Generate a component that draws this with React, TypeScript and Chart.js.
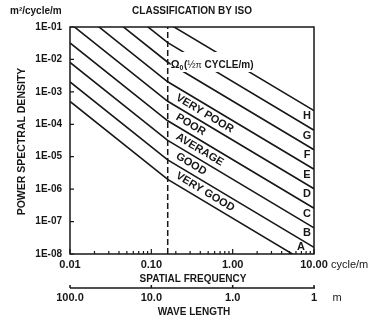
import React, { useEffect, useRef } from 'react';
import { Chart, registerables } from 'chart.js';

Chart.register(...registerables);

// spatial frequencies (cycle/m): left edge, Ω0 = 1/2π kink, right edge
const frequencies = [0.01, 0.159, 10];
const kinkFrequency = 0.159;

// ISO class boundary lines (A lower ... H upper), PSD in m²/cycle/m
const boundaryAtLeft = [5.06e-4, 2.02e-3, 8.1e-3, 3.24e-2, 0.129, 0.518, 2.07, 8.3, 33.1];
const boundaryAtKink = [2e-6, 8e-6, 3.2e-5, 1.28e-4, 5.12e-4, 2.048e-3, 8.192e-3, 3.277e-2, 0.1311];
const boundaryAtRight = [4.0e-9, 1.6e-8, 6.4e-8, 2.57e-7, 1.03e-6, 4.1e-6, 1.64e-5, 6.57e-5, 2.63e-4];

const classLetters = ['A', 'B', 'C', 'D', 'E', 'F', 'G', 'H'];
const qualityLabels = ['VERY GOOD', 'GOOD', 'AVERAGE', 'POOR', 'VERY POOR'];

const xTickValues = [0.01, 0.1, 1, 10];
const xTickLabels = ['0.01', '0.10', '1.00', '10.00'];
const yTickValues = [1e-8, 1e-7, 1e-6, 1e-5, 1e-4, 1e-3, 1e-2, 1e-1];
const yTickLabels = ['1E-08', '1E-07', '1E-06', '1E-05', '1E-04', '1E-03', '1E-02', '1E-01'];
const waveLengthLabels = ['100.0', '10.0', '1.0', '1'];

const FONT = "'Liberation Sans', Arial, Helvetica, sans-serif";
const INK = '#171717';

function logInterp(f: number, k: number): number {
  // log-space value of boundary k at frequency f (right of kink)
  const lf = Math.log10(f);
  const l0 = Math.log10(frequencies[1]);
  const l1 = Math.log10(frequencies[2]);
  const t = (lf - l0) / (l1 - l0);
  return Math.log10(boundaryAtKink[k]) + t * (Math.log10(boundaryAtRight[k]) - Math.log10(boundaryAtKink[k]));
}

const decor = {
  id: 'decor',
  afterDraw(chart: any) {
    const { ctx, chartArea: a, scales } = chart;
    const xs = scales.x;
    const ys = scales.y;
    ctx.save();
    ctx.strokeStyle = INK;
    ctx.fillStyle = INK;

    // frame
    ctx.lineWidth = 1.5;
    ctx.strokeRect(a.left, a.top, a.right - a.left, a.bottom - a.top);

    // y ticks (inside)
    ctx.lineWidth = 1.2;
    ctx.beginPath();
    yTickValues.forEach((v) => {
      const y = ys.getPixelForValue(v);
      ctx.moveTo(a.left, y);
      ctx.lineTo(a.left + 4, y);
    });
    // x ticks (inside, log minor)
    for (let d = 0; d < xTickValues.length; d++) {
      const base = xTickValues[d];
      const maxM = d === xTickValues.length - 1 ? 1 : 9;
      for (let m = 1; m <= maxM; m++) {
        const x = xs.getPixelForValue(base * m);
        const len = m === 1 ? 5 : 3;
        ctx.moveTo(x, a.bottom);
        ctx.lineTo(x, a.bottom - len);
      }
    }
    ctx.stroke();

    // Ω0 label with white backing (interrupts lines)
    const kx = xs.getPixelForValue(kinkFrequency);
    const lx = kx + 3;
    const ly = 68;
    ctx.fillStyle = '#ffffff';
    ctx.fillRect(lx, ly - 16, 88, 20);
    ctx.fillStyle = INK;
    ctx.textBaseline = 'alphabetic';
    ctx.textAlign = 'left';
    let cx = lx;
    ctx.font = `bold 11px ${FONT}`;
    ctx.fillText('Ω', cx, ly);
    cx += ctx.measureText('Ω').width;
    ctx.font = `bold 7px ${FONT}`;
    ctx.fillText('0', cx, ly + 2);
    cx += ctx.measureText('0').width + 0.5;
    ctx.font = `bold 10px ${FONT}`;
    ctx.fillText('(', cx, ly);
    cx += ctx.measureText('(').width;
    ctx.font = `10px ${FONT}`;
    ctx.fillText('½', cx, ly);
    cx += ctx.measureText('½').width;
    ctx.font = `9px ${FONT}`;
    ctx.fillText('π', cx, ly);
    cx += ctx.measureText('π').width;
    ctx.font = `bold 10px ${FONT}`;
    ctx.fillText(' CYCLE/m)', cx, ly);

    // rotated quality labels between boundaries (regions A..E)
    const startX = kx + 9;
    const fStart = xs.getValueForPixel(startX);
    ctx.font = `bold 11px ${FONT}`;
    ctx.textBaseline = 'middle';
    qualityLabels.forEach((label, k) => {
      const mid = (logInterp(fStart, k) + logInterp(fStart, k + 1)) / 2;
      const y = ys.getPixelForValue(Math.pow(10, mid));
      const xK = xs.getPixelForValue(frequencies[1]);
      const yK = ys.getPixelForValue(boundaryAtKink[k]);
      const xR = xs.getPixelForValue(frequencies[2]);
      const yR = ys.getPixelForValue(boundaryAtRight[k]);
      const ang = Math.atan2(yR - yK, xR - xK);
      ctx.save();
      ctx.translate(startX, y);
      ctx.rotate(ang);
      ctx.fillText(label, 0, 0);
      ctx.restore();
    });

    // class letters near right edge
    ctx.font = `bold 11px ${FONT}`;
    ctx.textAlign = 'center';
    classLetters.forEach((letter, k) => {
      let lxp = a.right - 7;
      const f = xs.getValueForPixel(lxp);
      const mid = (logInterp(f, k) + logInterp(f, k + 1)) / 2;
      let y = ys.getPixelForValue(Math.pow(10, mid));
      if (y > a.bottom - 7) {
        y = a.bottom - 7;
        lxp = a.right - 13;
      }
      ctx.fillText(letter, lxp, y);
    });

    // titles
    ctx.textBaseline = 'middle';
    ctx.font = `bold 10px ${FONT}`;
    ctx.textAlign = 'left';
    ctx.fillText('m²/cycle/m', 10, 11);
    ctx.textAlign = 'center';
    const cxp = (a.left + a.right) / 2;
    ctx.fillText('CLASSIFICATION BY ISO', cxp, 11);
    ctx.fillText('SPATIAL FREQUENCY', cxp + 1, 279);
    ctx.fillText('WAVE LENGTH', cxp + 2, 312);
    ctx.save();
    ctx.translate(22, (a.top + a.bottom) / 2 + 1);
    ctx.rotate(-Math.PI / 2);
    ctx.font = `bold 10.5px ${FONT}`;
    ctx.fillText('POWER SPECTRAL DENSITY', 0, 0);
    ctx.restore();

    // unit after last x label
    ctx.font = `11px ${FONT}`;
    ctx.textAlign = 'left';
    ctx.fillText('cycle/m', 331, 265);

    // wave length axis
    const wy = 288;
    ctx.lineWidth = 1.5;
    ctx.beginPath();
    ctx.moveTo(a.left, wy);
    ctx.lineTo(a.right + 1, wy);
    xTickValues.forEach((v) => {
      const x = xs.getPixelForValue(v);
      ctx.moveTo(x, wy);
      ctx.lineTo(x, wy - 3);
    });
    ctx.stroke();
    ctx.font = `bold 11px ${FONT}`;
    ctx.textAlign = 'center';
    xTickValues.forEach((v, i) => {
      ctx.fillText(waveLengthLabels[i], xs.getPixelForValue(v), 298);
    });
    ctx.font = `11px ${FONT}`;
    ctx.fillText('m', 337, 298);

    ctx.restore();
  },
};

export default function App() {
  const canvasRef = useRef<HTMLCanvasElement | null>(null);

  useEffect(() => {
    const canvas = canvasRef.current;
    if (!canvas) return;

    const boundaryDatasets = boundaryAtKink.map((_, k) => ({
      data: [
        { x: frequencies[0], y: boundaryAtLeft[k] },
        { x: frequencies[1], y: boundaryAtKink[k] },
        { x: frequencies[2], y: boundaryAtRight[k] },
      ],
      showLine: true,
      borderColor: INK,
      borderWidth: 1.6,
      pointRadius: 0,
      tension: 0,
    }));

    const dashedDataset = {
      data: [
        { x: kinkFrequency, y: yTickValues[0] },
        { x: kinkFrequency, y: yTickValues[yTickValues.length - 1] },
      ],
      showLine: true,
      borderColor: INK,
      borderWidth: 1.5,
      borderDash: [6, 3],
      pointRadius: 0,
    };

    const chart = new Chart(canvas, {
      type: 'scatter',
      data: { datasets: [...boundaryDatasets, dashedDataset] as any },
      options: {
        responsive: false,
        animation: false,
        devicePixelRatio: 1,
        layout: { padding: { top: 27, right: 54, left: 0, bottom: 0 } },
        plugins: { legend: { display: false }, tooltip: { enabled: false }, title: { display: false } },
        scales: {
          x: {
            type: 'logarithmic',
            min: xTickValues[0],
            max: xTickValues[xTickValues.length - 1],
            grid: { display: false, drawTicks: false },
            border: { display: false },
            afterBuildTicks: (scale: any) => {
              scale.ticks = xTickValues.map((v) => ({ value: v }));
            },
            afterFit: (scale: any) => {
              scale.height = 69;
            },
            ticks: {
              autoSkip: false,
              maxRotation: 0,
              minRotation: 0,
              padding: 4,
              color: INK,
              font: { family: FONT, size: 11, weight: 'bold' },
              callback: (_v: any, i: number) => xTickLabels[i],
            },
          },
          y: {
            type: 'logarithmic',
            min: yTickValues[0],
            max: yTickValues[yTickValues.length - 1],
            grid: { display: false, drawTicks: false },
            border: { display: false },
            afterBuildTicks: (scale: any) => {
              scale.ticks = yTickValues.map((v) => ({ value: v }));
            },
            afterFit: (scale: any) => {
              scale.width = 70;
            },
            ticks: {
              autoSkip: false,
              padding: 8,
              color: INK,
              font: { family: FONT, size: 10, weight: 'bold' },
              callback: (_v: any, i: number) => yTickLabels[i],
            },
          },
        },
      } as any,
      plugins: [decor],
    });

    return () => chart.destroy();
  }, []);

  return (
    <div style={{ position: 'fixed', left: 0, top: 0, width: 368, height: 323, background: '#fff' }}>
      <canvas ref={canvasRef} width={368} height={323} style={{ display: 'block' }} />
    </div>
  );
}
